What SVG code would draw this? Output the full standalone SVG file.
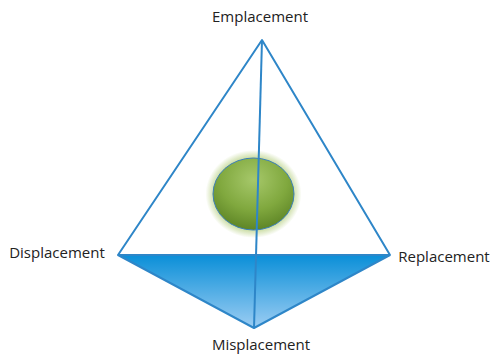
<svg xmlns="http://www.w3.org/2000/svg" width="492" height="354" viewBox="0 0 492 354">
<style>
.lbl{font-family:"Open Sans","Liberation Sans",sans-serif;font-size:15px;fill:#222;text-anchor:middle}
.edge{stroke:#2e86c8;stroke-width:2;fill:none;stroke-linejoin:round}
</style>
<defs>
<linearGradient id="base" x1="0" y1="0" x2="0" y2="1">
<stop offset="0" stop-color="#0a8fd8"/>
<stop offset="1" stop-color="#9ccdf3"/>
</linearGradient>
<radialGradient id="ball" cx="0.5" cy="0.3" r="0.7">
<stop offset="0" stop-color="#a6c86a"/>
<stop offset="0.6" stop-color="#80a83e"/>
<stop offset="1" stop-color="#5e8526"/>
</radialGradient>
<radialGradient id="glow" cx="0.5" cy="0.5" r="0.5">
<stop offset="0.8" stop-color="#c5d99a"/>
<stop offset="1" stop-color="#c5d99a" stop-opacity="0"/>
</radialGradient>
</defs>
<g id="base-face">
<polygon points="118,255 390,255 254,328" fill="url(#base)"/>
</g>
<g id="sphere">
<ellipse cx="253.5" cy="194" rx="48" ry="44" fill="url(#glow)"/>
<ellipse cx="253.5" cy="194" rx="40.5" ry="36" fill="url(#ball)" stroke="#3d7fb8" stroke-width="1"/>
</g>
<g id="connectors">
<polyline class="edge" points="118,255 262,40 390,255 118,255 254,328 390,255"/>
<line class="edge" x1="262" y1="40" x2="254" y2="328"/>
</g>
<g id="n-emplacement"><text class="lbl" x="260" y="22">Emplacement</text></g>
<g id="n-displacement"><text class="lbl" x="57" y="258">Displacement</text></g>
<g id="n-replacement"><text class="lbl" x="444" y="262">Replacement</text></g>
<g id="n-misplacement"><text class="lbl" x="261" y="350">Misplacement</text></g>
</svg>
